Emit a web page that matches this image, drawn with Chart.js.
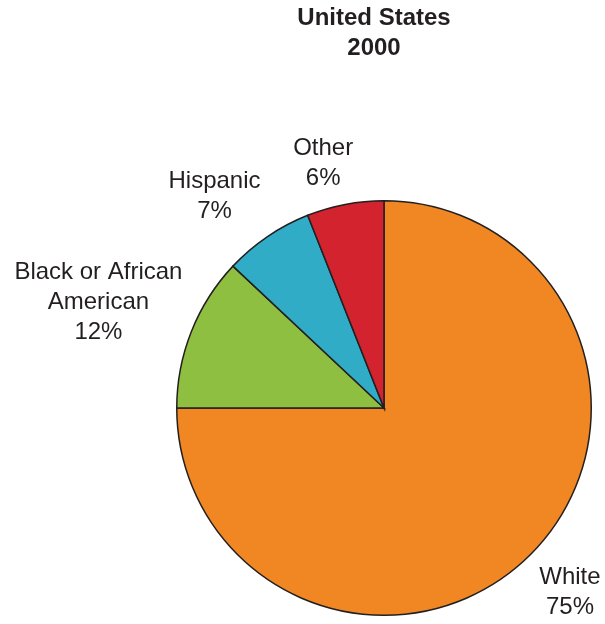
<!DOCTYPE html>
<html>
<head>
<meta charset="utf-8">
<script src="https://cdn.jsdelivr.net/npm/chart.js@4.4.1/dist/chart.umd.min.js"></script>
<style>
  html, body { margin: 0; padding: 0; background: #ffffff; }
  #wrap { width: 605px; height: 624px; position: relative; }
</style>
</head>
<body>
<div id="wrap"><canvas id="pie"></canvas></div>
<script>
// Population share by race / ethnicity, 2000
const categories = ['White', 'Black or African American', 'Hispanic', 'Other'];
const labelLines = [['White'], ['Black or African', 'American'], ['Hispanic'], ['Other']];
const shares = [75, 12, 7, 6];
const titleLines = ['United States', '2000'];

const sliceColors = ['#F08723', '#8EBF40', '#30ACC6', '#D2232E'];
const inkColor = '#231F20';
const fontFamily = '"Liberation Sans", Arial, sans-serif';

// small per-label nudges so text sits where it reads best
const labelNudge = [[5, 4], [2, -6], [-17, -1], [-13, 6]];

// title sits a little left of the pie centre, in the space above the chart area
const titleBlock = {
    id: 'titleBlock',
    afterDraw(chart) {
        const ctx = chart.ctx;
        const area = chart.chartArea;
        ctx.save();
        ctx.font = 'bold 24px ' + fontFamily;
        ctx.fillStyle = inkColor;
        ctx.textAlign = 'center';
        ctx.textBaseline = 'middle';
        const cx = (area.left + area.right) / 2 - 10;
        titleLines.forEach((s, k) => ctx.fillText(s, cx, 18 + k * 30));
        ctx.restore();
    }
};

// draws "Name / NN%" outside each slice
const outsideLabels = {
    id: 'outsideLabels',
    afterDatasetsDraw(chart) {
        const ctx = chart.ctx;
        const meta = chart.getDatasetMeta(0);
        const lineH = 30;
        ctx.save();
        ctx.font = '24px ' + fontFamily;
        ctx.fillStyle = inkColor;
        ctx.textAlign = 'center';
        ctx.textBaseline = 'middle';
        meta.data.forEach((arc, i) => {
            const { x, y, startAngle, endAngle, outerRadius } = arc.getProps(['x', 'y', 'startAngle', 'endAngle', 'outerRadius'], true);
            const mid = (startAngle + endAngle) / 2;
            const lines = labelLines[i].concat([shares[i] + '%']);
            const w = Math.max(...lines.map(s => ctx.measureText(s).width));
            const h = lines.length * lineH;
            const r = outerRadius + 18;
            const cx = x + Math.cos(mid) * r + Math.cos(mid) * w / 2 + labelNudge[i][0];
            const cy = y + Math.sin(mid) * r + Math.sin(mid) * h / 2 + labelNudge[i][1];
            lines.forEach((s, k) => {
                ctx.fillText(s, cx, cy - h / 2 + lineH / 2 + k * lineH);
            });
        });
        ctx.restore();
    }
};

new Chart(document.getElementById('pie'), {
    type: 'pie',
    data: {
        labels: categories,
        datasets: [{
            data: shares,
            backgroundColor: sliceColors,
            borderColor: inkColor,
            borderWidth: 1.5,
            borderJoinStyle: 'miter'
        }]
    },
    options: {
        responsive: true,
        maintainAspectRatio: false,
        animation: false,
        layout: { padding: { left: 176, right: 13, top: 200, bottom: 8 } },
        plugins: {
            legend: { display: false },
            tooltip: { enabled: false },
            title: { display: false }
        }
    },
    plugins: [outsideLabels, titleBlock]
});
</script>
</body>
</html>
